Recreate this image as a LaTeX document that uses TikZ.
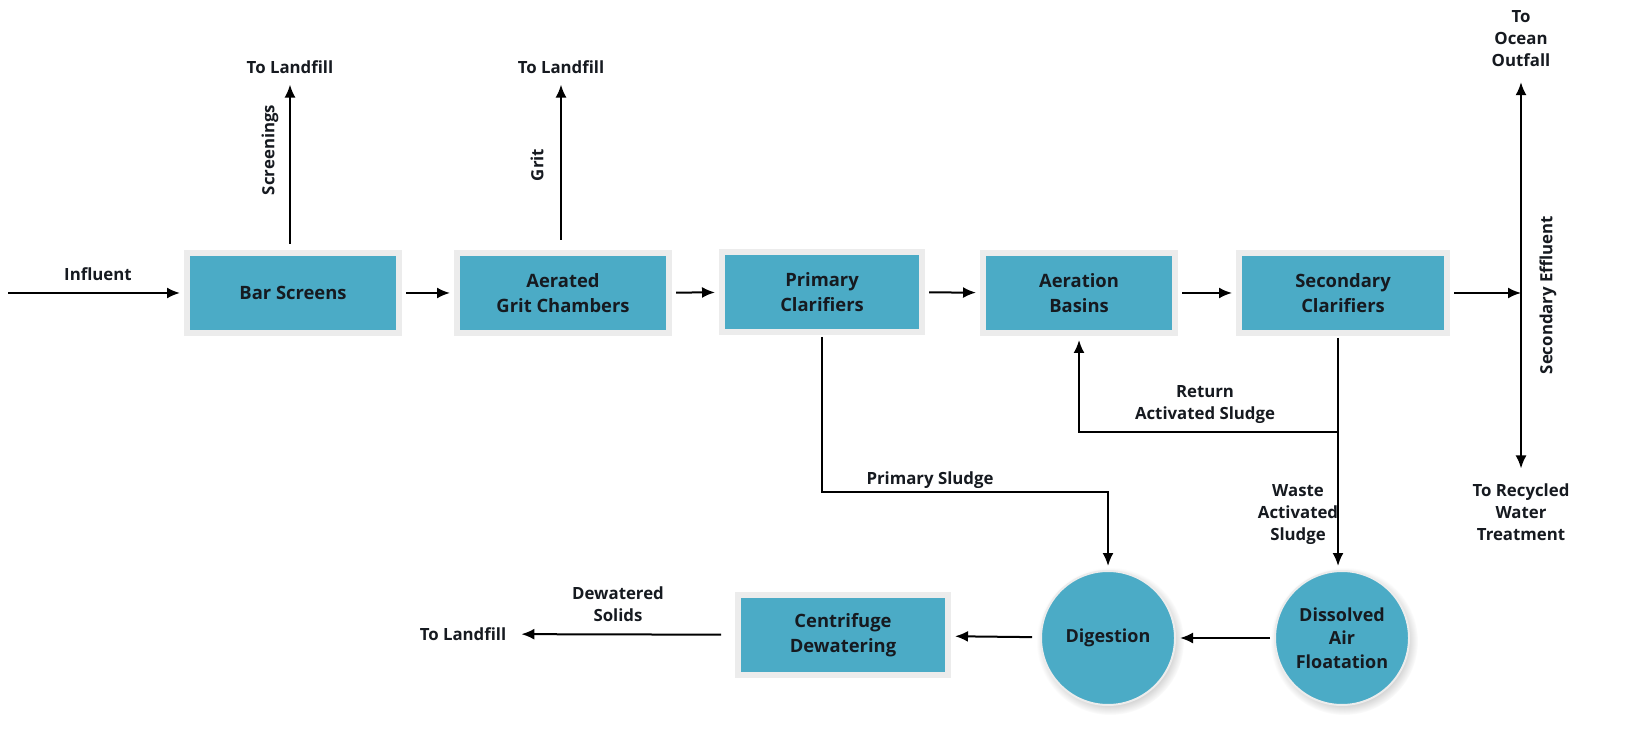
\documentclass[tikz,border=0pt]{standalone}
\usepackage{fontspec}
\setmainfont{Open Sans}
\usetikzlibrary{arrows.meta, shadows}
\definecolor{boxblue}{RGB}{75,171,198}
\definecolor{boxrim}{RGB}{236,236,236}
\definecolor{ink}{RGB}{22,26,32}

\begin{document}
\begin{tikzpicture}[x=0.5pt, y=-0.5pt, text=ink,
  font=\fontsize{8.4}{11}\selectfont\bfseries,
  proc/.style={rectangle, fill=boxblue, draw=boxrim, line width=3pt,
    minimum width=106pt, minimum height=40pt, align=center,
    font=\fontsize{9.2}{12.8}\selectfont\bfseries},
  tank/.style={circle, fill=boxblue, draw=boxrim, line width=1pt,
    minimum size=67pt, inner sep=0pt, align=center,
    font=\fontsize{9}{11.8}\selectfont\bfseries,
    circular drop shadow={shadow xshift=1pt, shadow yshift=-1.5pt, opacity=.35}},
  lbl/.style={align=center},
  flow/.style={-{Latex[length=6.5pt, width=5.5pt]}, line width=1pt,
    shorten <=2pt, shorten >=2pt}]
\fill[white] (0,0) rectangle (1652,731);
\useasboundingbox (0,0) rectangle (1652,731);

\node[proc] (bar) at (293,293) {Bar Screens};
\node[proc] (grit) at (563,293) {Aerated\\Grit Chambers};
\node[proc, minimum width=100pt] (pri) at (822,292) {Primary\\Clarifiers};
\node[proc, minimum width=96pt] (aer) at (1079,293) {Aeration\\Basins};
\node[proc, minimum width=104pt] (sec) at (1343,293) {Secondary\\Clarifiers};
\node[proc, minimum width=105pt] (cen) at (843,635) {Centrifuge\\Dewatering};
\node[tank] (dig) at (1108,638) {Digestion};
\node[tank] (daf) at (1342,638) {Dissolved\\Air\\Floatation};

\node (inf) at (98,274) {Influent};
\coordinate (src) at (8,293);
\node (lf1) at (290,67) {To Landfill};
\node (lf2) at (561,67) {To Landfill};
\node[rotate=90] (scr) at (270,150) {Screenings};
\node[rotate=90] (grt) at (537,165) {Grit};
\node[lbl] (ocean) at (1521,39) {To\\Ocean\\Outfall};
\node[lbl] (recyc) at (1521,512) {To Recycled\\Water\\Treatment};
\node[rotate=90] (seff) at (1548,295) {Secondary Effluent};
\node (psl) at (930,480) {Primary Sludge};
\node[lbl] (ras) at (1205,405) {Return\\Activated Sludge};
\node[lbl] (was) at (1298,515) {Waste\\Activated\\Sludge};
\node[lbl] (dws) at (618,604) {Dewatered\\Solids};
\node (lf3) at (463,634) {To Landfill};
\coordinate (eff) at (1521,293);
\coordinate (bend) at (822,492);
\coordinate (ret) at (1338,432);

\draw[flow, shorten <=0pt] (src) -- (bar);
\draw[flow] (bar) -- (grit);
\draw[flow] (grit) -- (pri);
\draw[flow] (pri) -- (aer);
\draw[flow] (aer) -- (sec);
\draw[flow, shorten >=0pt] (sec) -- (eff);
\draw[flow, shorten <=3pt] (bar.north -| lf1) -- (lf1.south);
\draw[flow, shorten <=5pt] (grit.north -| lf2) -- (lf2.south);
\draw[{Latex[length=6.5pt, width=5.5pt]}-{Latex[length=6.5pt, width=5.5pt]}, line width=1pt,
  shorten <=4pt, shorten >=4pt] (ocean.south) -- (recyc.north);
\draw[flow, shorten <=1pt] (pri.south) -- (bend) -| (dig.north);
\draw[flow, shorten <=0pt] (ret) -| (aer.south);
\draw[flow, shorten <=1pt] (sec.south -| ret) -- (daf.north -| ret);
\draw[flow] (daf) -- (dig);
\draw[flow, shorten <=4pt] (dig) -- (cen);
\draw[flow, shorten <=7pt, shorten >=4pt] (cen) -- (lf3);
\end{tikzpicture}
\end{document}
